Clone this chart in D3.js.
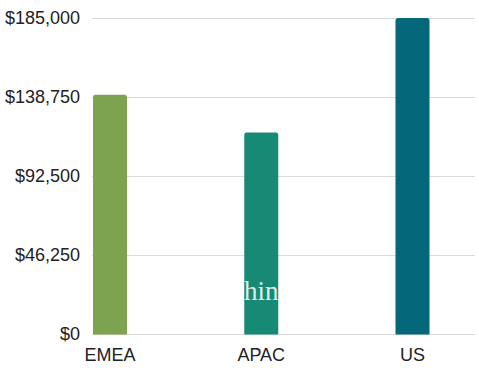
<!DOCTYPE html>
<html>
<head>
<meta charset="utf-8">
<script src="https://cdn.jsdelivr.net/npm/d3@7"></script>
<style>
  body { margin: 0; background: #fff; }
  text { font-family: "Liberation Sans", Arial, sans-serif; }
</style>
</head>
<body>
<svg id="chart" width="479" height="373"></svg>
<script>
// chart data
var regions = ["EMEA", "APAC", "US"];
var sales = [140000, 118000, 185000];
var yTicks = [0, 46250, 92500, 138750, 185000];
var barColours = ["#7ea350", "#168a74", "#04677a"];

var width = 479, height = 373;
var margin = {top: 18, right: 4, bottom: 39, left: 92};

var svg = d3.select("#chart");

var x = d3.scalePoint()
    .domain(regions)
    .range([110, 412.5]);

var y = d3.scaleLinear()
    .domain([0, 185000])
    .range([height - margin.bottom, margin.top]);

var barWidth = 34;

// gridlines
svg.append("g")
    .selectAll("line")
    .data(yTicks)
    .enter().append("line")
    .attr("x1", margin.left)
    .attr("x2", width - margin.right)
    .attr("y1", d => y(d) + 0.5)
    .attr("y2", d => y(d) + 0.5)
    .attr("stroke", "#d9d9d9")
    .attr("stroke-width", 1.2);

// y labels
svg.append("g")
    .selectAll("text")
    .data(yTicks)
    .enter().append("text")
    .attr("x", 80)
    .attr("y", d => y(d))
    .attr("dy", "0.35em")
    .attr("text-anchor", "end")
    .style("font-size", "18px")
    .style("fill", "#222")
    .text(d => "$" + d3.format(",")(d));

// bars with slightly rounded tops
svg.append("g")
    .selectAll("path")
    .data(regions)
    .enter().append("path")
    .attr("d", function (d, i) {
        var x0 = x(d) - barWidth / 2, x1 = x0 + barWidth;
        var top = y(sales[i]), base = y(0) + 0.5, r = 2.5;
        return "M" + x0 + "," + base +
            "V" + (top + r) +
            "Q" + x0 + "," + top + " " + (x0 + r) + "," + top +
            "H" + (x1 - r) +
            "Q" + x1 + "," + top + " " + x1 + "," + (top + r) +
            "V" + base + "Z";
    })
    .attr("fill", (d, i) => barColours[i]);

// x labels
svg.append("g")
    .selectAll("text")
    .data(regions)
    .enter().append("text")
    .attr("x", d => x(d))
    .attr("y", 361)
    .attr("text-anchor", "middle")
    .style("font-size", "18px")
    .style("fill", "#222")
    .text(d => d);

// faint watermark (white, only shows over bars)
svg.append("text")
    .attr("x", 196)
    .attr("y", 300)
    .attr("text-anchor", "start")
    .style("font-family", "'Liberation Serif', 'DejaVu Serif', serif")
    .style("font-size", "27px")
    .style("fill", "#ffffff")
    .style("opacity", 0.85)
    .text("Machine");
</script>
</body>
</html>
